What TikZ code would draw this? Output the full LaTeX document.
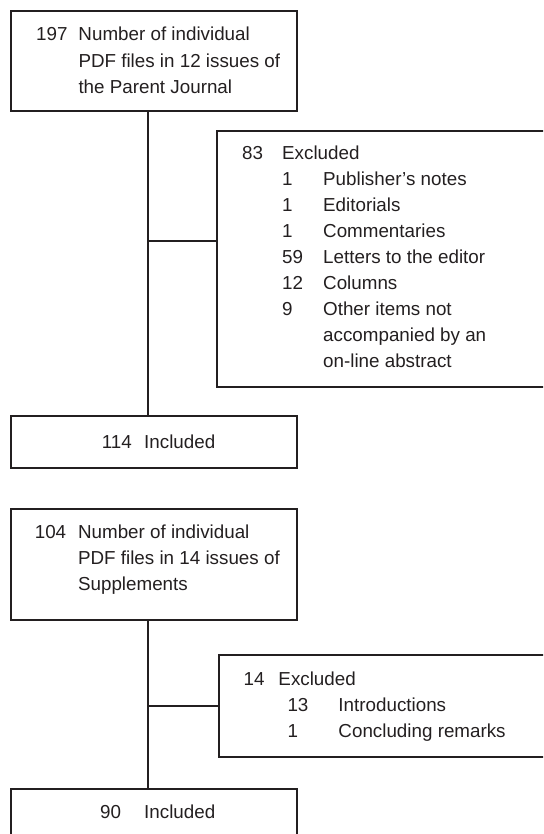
\documentclass[tikz,border=0pt]{standalone}
\usepackage{fontspec}
\setmainfont{Liberation Sans}
\usepackage{array}
\definecolor{ink}{HTML}{231F20}
\begin{document}
\begin{tikzpicture}[x=1pt,y=-1pt,
  box/.style={draw=ink, line width=1.8pt, rectangle, anchor=north west, inner sep=0pt, outer sep=0pt},
  txt/.style={anchor=base west, inner sep=0pt, text=ink, font=\fontsize{18.8}{26}\selectfont},
  conn/.style={draw=ink, line width=1.8pt}]
\useasboundingbox (0,0) rectangle (543,834);
\clip (0,0) rectangle (543,834);
% boxes
\node[box, minimum width=286pt, minimum height=100pt] (a) at (11,11) {};
\node[box, minimum width=340pt, minimum height=256pt] (b) at (217,131) {};
\node[box, minimum width=286pt, minimum height=52pt] (c) at (11,416) {};
\node[box, minimum width=286pt, minimum height=111pt] (d) at (11,509) {};
\node[box, minimum width=340pt, minimum height=102pt] (e) at (219,655) {};
\node[box, minimum width=286pt, minimum height=60pt] (f) at (11,789) {};
% connectors
\coordinate (v1) at (148,0);
\coordinate (h1) at (0,241);
\draw[conn] (a.south -| v1) -- (c.north -| v1);
\draw[conn] (v1 |- h1) -- (b.west |- h1);
\coordinate (v2) at (148,0);
\draw[conn] (d.south -| v2) -- (f.north -| v2);
\draw[conn] (v2 |- e.west) -- (e.west);
% texts
\node[txt] (ta) at (36,40.3) {\begin{tabular}[t]{@{}p{42.3pt}@{}l@{}}197 & Number of individual\\[0.8pt] & PDF files in 12 issues of\\[0.8pt] & the Parent Journal\end{tabular}};
\node[txt] (tb) at (242,159.3) {\begin{tabular}[t]{@{}p{40pt}@{}p{41pt}@{}l@{}}83 & \multicolumn{2}{@{}l@{}}{Excluded}\\
 & 1 & Publisher’s notes\\
 & 1 & Editorials\\
 & 1 & Commentaries\\
 & 59 & Letters to the editor\\
 & 12 & Columns\\
 & 9 & Other items not\\
 & & accompanied by an\\
 & & on-line abstract\end{tabular}};
\node[txt] (tc) at (101.7,448) {\begin{tabular}[t]{@{}p{42.3pt}@{}l@{}}114 & Included\end{tabular}};
\node[txt] (td) at (34.6,538.3) {\begin{tabular}[t]{@{}p{43.3pt}@{}l@{}}104 & Number of individual\\ & PDF files in 14 issues of\\ & Supplements\end{tabular}};
\node[txt] (te) at (243.5,685) {\begin{tabular}[t]{@{}p{43.8pt}@{}p{51pt}@{}l@{}}\multicolumn{3}{@{}l@{}}{\makebox[34.8pt][l]{14}Excluded}\\
 & 13 & Introductions\\
 & 1 & Concluding remarks\end{tabular}};
\node[txt] (tf) at (100,818) {\begin{tabular}[t]{@{}p{44pt}@{}l@{}}90 & Included\end{tabular}};
\end{tikzpicture}
\end{document}
